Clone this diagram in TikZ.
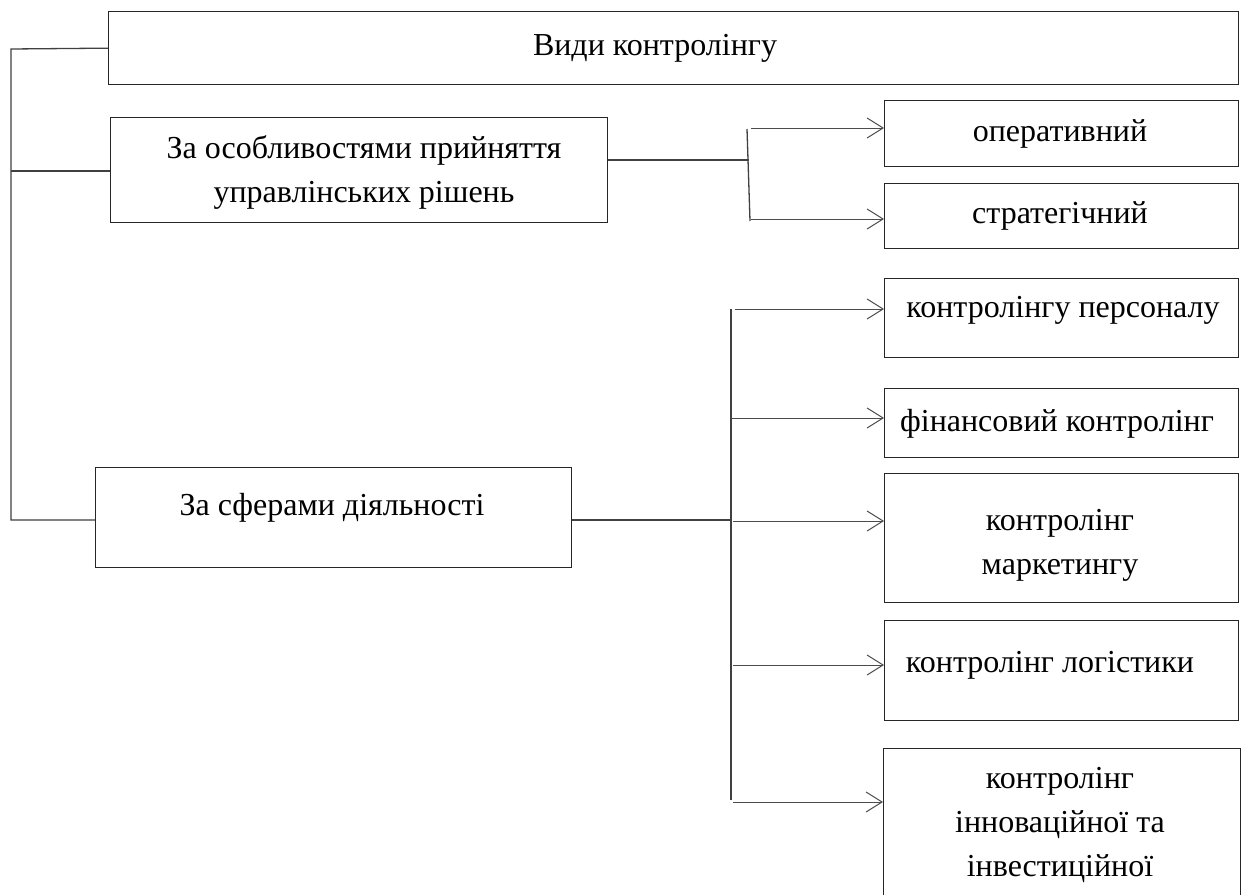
\documentclass[tikz,border=0pt]{standalone}
\usepackage{fontspec}
\setmainfont{Liberation Serif}
\usetikzlibrary{arrows.meta}
\begin{document}
\begin{tikzpicture}[x=1pt,y=-1pt,
  box/.style={draw=black!85, line width=1.3pt, inner sep=0pt, anchor=north west},
  lbl/.style={font=\fontsize{32}{44}\selectfont, align=center, inner sep=0pt},
  conn/.style={draw=black!75, line width=1.3pt},
  arr/.style={draw=black!70, line width=1pt, -{Straight Barb[length=16pt,width=20pt,line width=1pt]}}]
\clip (0,0) rectangle (1249,894);
\fill[white] (0,0) rectangle (1249,894);
% boxes
\node[box, minimum width=1130pt, minimum height=73pt] (top) at (108,11) {};
\node[box, minimum width=497pt, minimum height=105pt] (b2) at (110,117) {};
\node[box, minimum width=476pt, minimum height=100pt] (b3) at (95,467) {};
\node[box, minimum width=354pt, minimum height=66pt] (op) at (884,100) {};
\node[box, minimum width=354pt, minimum height=65pt] (st) at (884,183) {};
\node[box, minimum width=354pt, minimum height=79pt] (pers) at (884,278) {};
\node[box, minimum width=354pt, minimum height=69pt] (fin) at (884,388) {};
\node[box, minimum width=354pt, minimum height=129pt] (mark) at (884,473) {};
\node[box, minimum width=354pt, minimum height=100pt] (log) at (884,620) {};
\node[box, minimum width=357pt, minimum height=170pt] (inv) at (883,748) {};
% texts
\node[lbl] (ttop) at (655,48) {Види контролінгу};
\node[lbl] (tb2) at (364,172) {За особливостями прийняття\\управлінських рішень};
\node[lbl] (tb3) at (332,508) {За сферами діяльності};
\node[lbl] (top1) at (1060,134) {оперативний};
\node[lbl] (tst) at (1060,216) {стратегічний};
\node[lbl] (tpers) at (1063,310) {контролінгу персоналу};
\node[lbl] (tfin) at (1057,424) {фінансовий контролінг};
\node[lbl] (tmark) at (1060,545) {контролінг\\маркетингу};
\node[lbl] (tlog) at (1050,665) {контролінг логістики};
\node[lbl] (tinv) at (1060,825) {контролінг\\інноваційної та\\інвестиційної};
% left bracket
\coordinate (L1) at (11,49);
\coordinate (L2) at (11,171);
\coordinate (L3) at (11,520);
\draw[conn] (top.west) -- (L1) -- (L3) -- (b3.west |- L3);
\draw[conn] (L2) -- (b2.west |- L2);
% upper group
\coordinate (J1) at (749,160);
\coordinate (V1t) at (747,129);
\coordinate (V1b) at (750,221);
\coordinate (A1) at (751,128);
\coordinate (A2) at (751,219);
\draw[conn] (b2.east |- J1) -- (J1);
\draw[conn] (V1t) -- (V1b);
\draw[arr] (A1) -- (op.west |- A1);
\draw[arr] (A2) -- (st.west |- A2);
% lower group
\coordinate (J2) at (731,520);
\coordinate (V2t) at (731,309);
\coordinate (V2b) at (731,800);
\draw[conn] (b3.east |- J2) -- (J2);
\draw[conn] (V2t) -- (V2b);
\coordinate (B1) at (735,309);
\coordinate (B2) at (731,418);
\coordinate (B3) at (733,521);
\coordinate (B4) at (733,665);
\coordinate (B5) at (733,802);
\draw[arr] (B1) -- (pers.west |- B1);
\draw[arr] (B2) -- (fin.west |- B2);
\draw[arr] (B3) -- (mark.west |- B3);
\draw[arr] (B4) -- (log.west |- B4);
\draw[arr] (B5) -- (inv.west |- B5);
\end{tikzpicture}
\end{document}
